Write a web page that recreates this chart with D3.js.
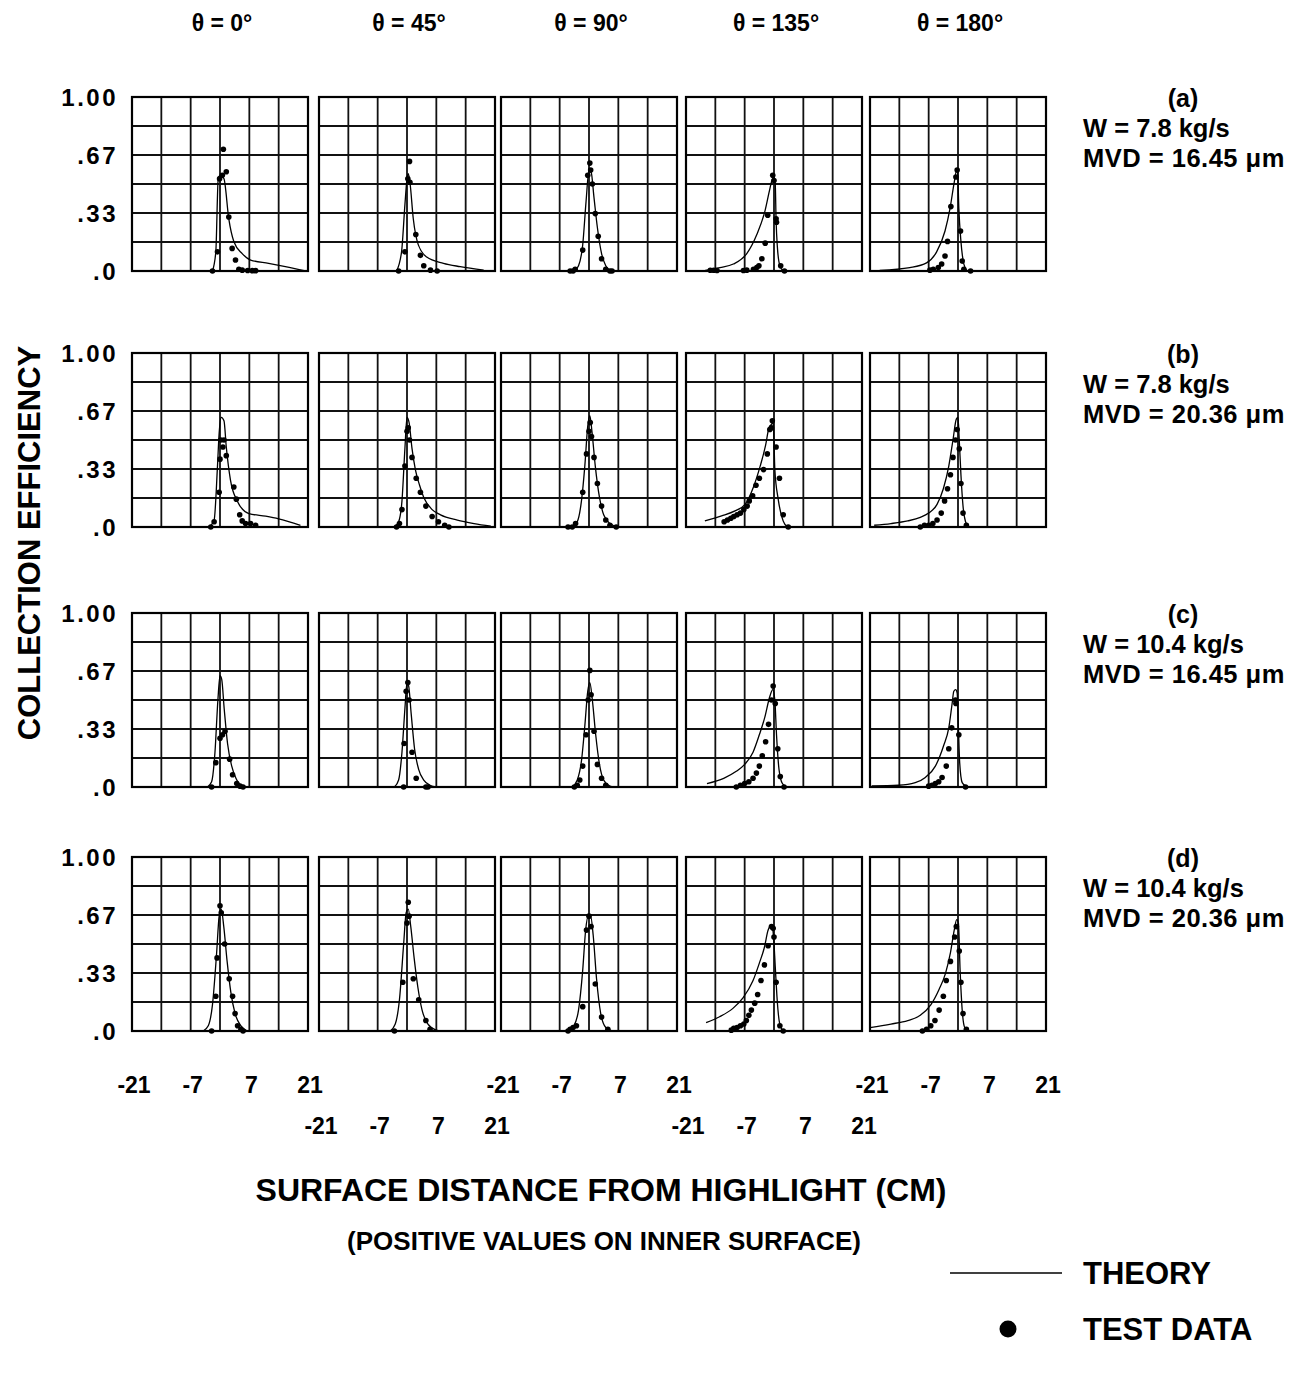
<!DOCTYPE html>
<html>
<head>
<meta charset="utf-8">
<script src="https://cdn.jsdelivr.net/npm/d3@7"></script>
<style>
  html, body { margin: 0; padding: 0; background: #fff; }
  svg text { font-family: "Liberation Sans", Arial, Helvetica, sans-serif; font-weight: bold; fill: #000; }
</style>
</head>
<body>
<svg id="chart" width="1303" height="1373"></svg>
<script>
// ---- Labels ----
const angleTitles = ["θ = 0°", "θ = 45°", "θ = 90°", "θ = 135°", "θ = 180°"];
const caseLetters = ["(a)", "(b)", "(c)", "(d)"];
const flowRates = ["W = 7.8 kg/s", "W = 7.8 kg/s", "W = 10.4 kg/s", "W = 10.4 kg/s"];
const dropSizes = ["MVD = 16.45 μm", "MVD = 20.36 μm", "MVD = 16.45 μm", "MVD = 20.36 μm"];
const xTickValues = [-21, -7, 7, 21];
const yTickValues = [0, 1 / 3, 2 / 3, 1];
const yTickLabels = [".0", ".33", ".67", "1.00"];
const xGridValues = [-21, -14, -7, 0, 7, 14, 21];
const yGridValues = [0, 1 / 6, 2 / 6, 3 / 6, 4 / 6, 5 / 6, 1];

// ---- Theory curves [s (cm), beta], one list per angle (0,45,90,135,180) ----
const theoryA = [
  [[-1.8,0],[-1.0,0.11],[-0.4,0.54],[0.2,0.55],[0.95,0.53],[2.1,0.30],[3.3,0.17],[5.3,0.10],[7.3,0.063],[11.6,0.044],[15.6,0.025],[20.4,0]],
  [[-2.5,0],[-1.3,0.11],[-0.5,0.38],[0,0.53],[0.3,0.56],[0.7,0.51],[1.5,0.30],[2.7,0.15],[4.7,0.08],[8.7,0.044],[12.7,0.025],[18.3,0.005]],
  [[-3.5,0],[-2.5,0.03],[-1.5,0.15],[-0.7,0.4],[0,0.58],[0.5,0.57],[1.2,0.42],[2,0.25],[3,0.1],[4,0.03],[5,0.005],[6,0]],
  [[-16.4,0.004],[-12.9,0.02],[-9.7,0.04],[-6.5,0.10],[-4.1,0.21],[-2.1,0.35],[-1.1,0.46],[-0.5,0.52],[0,0.54],[0.3,0.50],[0.5,0.29],[0.8,0.14],[1.4,0.03],[2.2,0]],
  [[-18.7,0.004],[-11.5,0.02],[-7.5,0.047],[-5.1,0.11],[-3.1,0.23],[-1.9,0.36],[-0.9,0.51],[-0.3,0.58],[-0.1,0.57],[0.2,0.36],[0.7,0.17],[1.4,0.04],[2.2,0]]
];
const theoryB = [
  [[-2.6,0],[-1.4,0.04],[-0.6,0.35],[-0.2,0.54],[0.3,0.63],[0.95,0.61],[1.5,0.46],[2.5,0.27],[4.1,0.15],[6.9,0.077],[10.9,0.062],[14.0,0.047],[19.2,0.01]],
  [[-3,0],[-2,0.03],[-1.2,0.15],[-0.5,0.45],[0,0.63],[0.5,0.6],[1.2,0.45],[2,0.33],[3,0.24],[4,0.17],[6,0.1],[8,0.07],[12,0.04],[16,0.02],[20,0.005]],
  [[-4,0],[-2.8,0.03],[-1.8,0.15],[-1,0.35],[-0.3,0.58],[0.2,0.64],[0.7,0.55],[1.5,0.35],[2.5,0.17],[3.5,0.07],[5,0.02],[7,0]],
  [[-16.5,0.035],[-12.5,0.064],[-9.3,0.093],[-6.9,0.13],[-4.9,0.23],[-3.3,0.35],[-2.0,0.47],[-1.2,0.57],[-0.6,0.59],[-0.2,0.60],[0,0.49],[0.2,0.33],[1.0,0.16],[1.8,0.064],[2.6,0.015],[3.4,0]],
  [[-20,0.01],[-16,0.02],[-12,0.035],[-9,0.055],[-7,0.08],[-5,0.13],[-3.5,0.22],[-2.2,0.35],[-1.2,0.5],[-0.4,0.62],[0,0.63],[0.3,0.5],[0.7,0.3],[1.2,0.12],[1.8,0.03],[2.5,0]]
];
const theoryC = [
  [[-3,0],[-2,0.03],[-1.2,0.2],[-0.5,0.5],[0,0.64],[0.4,0.62],[1,0.45],[1.8,0.25],[2.8,0.12],[3.8,0.05],[5,0.01],[6.5,0]],
  [[-3,0],[-2,0.04],[-1.2,0.2],[-0.5,0.45],[0,0.6],[0.4,0.58],[1,0.42],[1.8,0.22],[2.8,0.1],[4,0.04],[5.5,0.01],[7,0]],
  [[-4,0],[-2.8,0.04],[-1.8,0.15],[-1,0.35],[-0.3,0.55],[0.2,0.6],[0.8,0.5],[1.6,0.3],[2.5,0.13],[3.5,0.04],[5,0.005],[6,0]],
  [[-16,0.02],[-12,0.05],[-9,0.09],[-7,0.13],[-5,0.2],[-3.5,0.3],[-2.2,0.4],[-1,0.52],[-0.3,0.56],[0.2,0.5],[0.6,0.3],[1.2,0.1],[2,0.02],[3,0]],
  [[-20.6,0.006],[-14.2,0.01],[-10.2,0.025],[-7.8,0.055],[-5.4,0.12],[-3.4,0.24],[-2.2,0.34],[-1.4,0.48],[-1.0,0.55],[-0.55,0.56],[-0.2,0.54],[0.1,0.34],[0.4,0.14],[1.0,0.025],[1.8,0.006],[2.6,0]]
];
const theoryD = [
  [[-4,0],[-2.8,0.03],[-1.8,0.15],[-0.8,0.45],[-0.2,0.66],[0.3,0.7],[0.9,0.6],[1.7,0.4],[2.6,0.22],[3.6,0.1],[5,0.03],[6.5,0]],
  [[-4,0],[-2.8,0.04],[-1.8,0.18],[-0.8,0.5],[-0.2,0.68],[0.3,0.7],[0.9,0.6],[1.7,0.42],[2.6,0.25],[3.6,0.12],[5,0.04],[7,0.005],[8,0]],
  [[-5,0],[-3.6,0.03],[-2.5,0.12],[-1.5,0.35],[-0.8,0.58],[-0.2,0.66],[0.4,0.66],[1,0.55],[1.8,0.3],[2.8,0.1],[4,0.02],[5.5,0]],
  [[-16.2,0.048],[-13.0,0.082],[-9.8,0.13],[-7.4,0.19],[-5.0,0.29],[-3.5,0.39],[-2.3,0.48],[-1.4,0.58],[-1.0,0.60],[-0.5,0.60],[-0.1,0.54],[0.3,0.37],[0.7,0.2],[1.3,0.05],[2.1,0.006],[2.9,0]],
  [[-21,0.02],[-16,0.04],[-12,0.06],[-9,0.09],[-6.5,0.15],[-4.5,0.24],[-3,0.33],[-1.8,0.45],[-0.9,0.58],[-0.3,0.64],[0.1,0.62],[0.5,0.35],[1,0.12],[1.6,0.02],[2.5,0]]
];

// ---- Test data [s (cm), beta], one list per angle ----
const testA = [
  [[0.8,0.70],[1.5,0.57],[0.55,0.55],[-0.1,0.53],[2.1,0.31],[-0.6,0.11],[2.9,0.13],[3.7,0.063],[-1.8,0],[4.5,0.01],[5.3,0.005],[6.6,0.003],[7.7,0.002],[8.5,0.002]],
  [[0.6,0.63],[0.2,0.53],[0.7,0.51],[-0.5,0.11],[2.1,0.21],[3.2,0.09],[4.0,0.03],[-2.0,0],[5.6,0.005],[7.2,0]],
  [[-4.5,0],[-3.8,0],[-3.3,0.01],[-1.5,0.12],[-0.3,0.55],[0.2,0.62],[0.4,0.58],[0.8,0.5],[1.5,0.33],[2.2,0.2],[3,0.07],[4,0.01],[5,0],[5.5,0]],
  [[-0.3,0.55],[0,0.52],[-1.5,0.32],[0.5,0.30],[0.6,0.28],[-2.1,0.16],[-2.9,0.07],[-3.6,0.03],[-4.1,0.02],[-4.9,0.01],[-6.5,0.005],[-7.3,0.003],[1.6,0.03],[2.5,0],[-15.2,0.004],[-14.4,0.004],[-13.6,0.003]],
  [[-0.2,0.58],[-0.5,0.54],[-1.7,0.37],[-2.5,0.17],[-3.1,0.086],[-3.9,0.04],[-4.7,0.02],[-5.9,0.01],[-6.7,0.005],[0.6,0.23],[1.0,0.057],[1.4,0.01],[3.0,0]]
];
const testB = [
  [[0.2,0.50],[0.95,0.50],[0,0.39],[1.5,0.41],[0.7,0.46],[3.3,0.23],[3.9,0.16],[-0.2,0.2],[4.7,0.07],[5.3,0.035],[6.1,0.02],[7.3,0.02],[8.5,0.01],[-1.4,0.03],[-2.2,0]],
  [[-2.5,0],[-1.8,0.02],[-1.2,0.1],[-0.5,0.35],[0,0.55],[0.3,0.57],[0.6,0.5],[1.2,0.4],[2.2,0.28],[3.2,0.2],[4.5,0.12],[6,0.06],[7.5,0.03],[9,0.01],[10,0]],
  [[-5,0],[-4,0],[-3.2,0.02],[-1.5,0.2],[-0.6,0.42],[0,0.55],[0.3,0.6],[0.6,0.52],[1.2,0.4],[2,0.25],[3,0.12],[4,0.04],[5,0.01],[6.5,0]],
  [[-0.4,0.61],[-0.6,0.57],[-1.0,0.56],[0.5,0.46],[-1.6,0.42],[-2.5,0.33],[-3.5,0.28],[-4.3,0.24],[-5.1,0.18],[-5.9,0.15],[-6.4,0.12],[-7.2,0.1],[-8.0,0.08],[-8.8,0.07],[-9.6,0.06],[-10.3,0.05],[-11.1,0.04],[-11.9,0.03],[1.3,0.28],[2.2,0.07],[3.4,0]],
  [[-9,0],[-8,0.01],[-7,0.01],[-6,0.02],[-5,0.04],[-4,0.08],[-3.2,0.15],[-2.5,0.22],[-1.8,0.3],[-1.2,0.4],[-0.6,0.5],[-0.2,0.56],[0.3,0.45],[0.7,0.25],[1.2,0.08],[2,0.01]]
];
const testC = [
  [[-2,0],[-1,0.14],[0,0.28],[0.6,0.3],[1.2,0.32],[2.3,0.16],[3,0.07],[4,0.02],[4.8,0.005],[5.5,0]],
  [[-0.8,0],[-0.7,0.25],[-0.2,0.55],[0.2,0.6],[0.5,0.5],[1.2,0.2],[2.2,0.05],[4.5,0],[5,0]],
  [[-3.5,0],[-2.8,0.01],[-2.2,0.04],[-1.5,0.12],[-0.7,0.3],[-0.2,0.5],[0.2,0.67],[0.5,0.53],[1.2,0.32],[2,0.13],[3,0.05],[4,0.01]],
  [[-9,0],[-8,0.01],[-7,0.02],[-6,0.03],[-5,0.05],[-4.2,0.08],[-3.5,0.12],[-2.8,0.18],[-2,0.26],[-1.3,0.36],[-0.6,0.5],[-0.2,0.58],[0.3,0.48],[0.9,0.22],[1.5,0.06],[2.4,0]],
  [[-0.6,0.5],[-0.5,0.48],[-1.5,0.34],[-2.2,0.22],[-2.8,0.12],[-3.8,0.055],[-4.6,0.03],[-5.4,0.02],[-6.2,0.01],[-7.0,0.005],[0.2,0.3],[1.8,0]]
];
const testD = [
  [[-2,0],[-1,0.2],[-0.7,0.42],[0,0.72],[0.3,0.68],[1.1,0.5],[2.2,0.3],[3,0.2],[3.6,0.1],[4.2,0.03],[5,0.01],[5.5,0]],
  [[-3,0],[-1,0.28],[0,0.62],[0.3,0.74],[0.5,0.66],[1.5,0.3],[2.8,0.18],[4.5,0.06],[5.5,0.01]],
  [[-5,0],[-4.5,0.01],[-3.8,0.02],[-3,0.03],[-1.5,0.14],[-0.6,0.58],[0,0.66],[0.5,0.6],[1.5,0.27],[3,0.08],[4.5,0.01]],
  [[-0.6,0.6],[-0.2,0.59],[0,0.54],[-1.4,0.49],[-2.3,0.38],[-3.1,0.29],[-3.9,0.21],[-4.6,0.16],[-5.4,0.12],[-6.0,0.09],[-6.6,0.06],[-7.2,0.04],[-8.0,0.03],[-8.8,0.02],[-9.6,0.015],[-10.2,0.005],[0.5,0.28],[1.4,0.03],[2.2,0]],
  [[-8.5,0],[-7.5,0.01],[-6.5,0.03],[-5.5,0.06],[-4.5,0.12],[-3.5,0.2],[-2.8,0.29],[-1.8,0.4],[-0.8,0.54],[-0.4,0.6],[0.3,0.46],[0.7,0.28],[1.2,0.1],[2,0.01]]
];

const theoryRows = [theoryA, theoryB, theoryC, theoryD];
const testRows = [testA, testB, testC, testD];

// ---- Layout ----
const colLeft = [132, 319, 501, 686, 870];
const rowTop = [97, 353, 613, 857];
const panelW = 176, panelH = 174;

const svg = d3.select("#chart");
svg.append("rect").attr("width", 1303).attr("height", 1373).attr("fill", "#fff");

const line = d3.line().curve(d3.curveMonotoneX);

rowTop.forEach((top, r) => {
  const y = d3.scaleLinear().domain([0, 1]).range([top + panelH, top]);

  colLeft.forEach((left, c) => {
    const x = d3.scaleLinear().domain([-21, 21]).range([left, left + panelW]);
    const g = svg.append("g");

    // grid
    g.selectAll("line.v").data(xGridValues).join("line")
      .attr("x1", d => x(d)).attr("x2", d => x(d))
      .attr("y1", y(0)).attr("y2", y(1))
      .attr("stroke", "#111").attr("stroke-width", 1.8);
    g.selectAll("line.h").data(yGridValues).join("line")
      .attr("x1", x(-21)).attr("x2", x(21))
      .attr("y1", d => y(d)).attr("y2", d => y(d))
      .attr("stroke", "#111").attr("stroke-width", 1.8);
    g.append("rect")
      .attr("x", x(-21)).attr("y", y(1))
      .attr("width", x(21) - x(-21)).attr("height", y(0) - y(1))
      .attr("fill", "none").attr("stroke", "#000").attr("stroke-width", 2.2);

    // theory curve
    g.append("path")
      .datum(theoryRows[r][c])
      .attr("d", line.x(d => x(d[0])).y(d => y(d[1])))
      .attr("fill", "none").attr("stroke", "#000").attr("stroke-width", 1.3);

    // test points
    g.selectAll("circle").data(testRows[r][c]).join("circle")
      .attr("cx", d => x(d[0])).attr("cy", d => y(d[1]))
      .attr("r", 2.8).attr("fill", "#000");

    // column titles above the first row
    if (r === 0) {
      svg.append("text")
        .attr("x", (x(-21) + x(21)) / 2 + 2).attr("y", 31)
        .attr("text-anchor", "middle").attr("font-size", 23)
        .text(angleTitles[c]);
    }

    // x tick labels below the last row, staggered on two lines
    if (r === rowTop.length - 1) {
      const ty = c % 2 === 0 ? 1093 : 1134;
      svg.selectAll(null).data(xTickValues).join("text")
        .attr("x", d => x(d) + 2).attr("y", ty)
        .attr("text-anchor", "middle").attr("font-size", 23)
        .text(d => d);
    }
  });

  // y tick labels
  svg.selectAll(null).data(yTickValues).join("text")
    .attr("x", 118).attr("y", d => y(d) + 9)
    .attr("text-anchor", "end").attr("font-size", 24)
    .attr("letter-spacing", 2.5)
    .text((d, i) => yTickLabels[i]);

  // case annotation on the right
  svg.append("text").attr("x", 1183).attr("y", top + 10)
    .attr("text-anchor", "middle").attr("font-size", 25).text(caseLetters[r]);
  svg.append("text").attr("x", 1083).attr("y", top + 40)
    .attr("font-size", 25.5).text(flowRates[r]);
  svg.append("text").attr("x", 1083).attr("y", top + 70)
    .attr("font-size", 25.5).attr("letter-spacing", 0.5).text(dropSizes[r]);
});

// axis titles
svg.append("text")
  .attr("transform", "translate(40,543) rotate(-90)")
  .attr("text-anchor", "middle").attr("font-size", 31)
  .text("COLLECTION EFFICIENCY");
svg.append("text").attr("x", 601).attr("y", 1201)
  .attr("text-anchor", "middle").attr("font-size", 32)
  .text("SURFACE DISTANCE FROM HIGHLIGHT (CM)");
svg.append("text").attr("x", 604).attr("y", 1250)
  .attr("text-anchor", "middle").attr("font-size", 26)
  .text("(POSITIVE VALUES ON INNER SURFACE)");

// legend
svg.append("line").attr("x1", 950).attr("x2", 1062).attr("y1", 1273).attr("y2", 1273)
  .attr("stroke", "#000").attr("stroke-width", 1.3);
svg.append("text").attr("x", 1083).attr("y", 1284).attr("font-size", 31).text("THEORY");
svg.append("circle").attr("cx", 1008).attr("cy", 1329).attr("r", 8.5).attr("fill", "#000");
svg.append("text").attr("x", 1083).attr("y", 1340).attr("font-size", 31).text("TEST DATA");
</script>
</body>
</html>
